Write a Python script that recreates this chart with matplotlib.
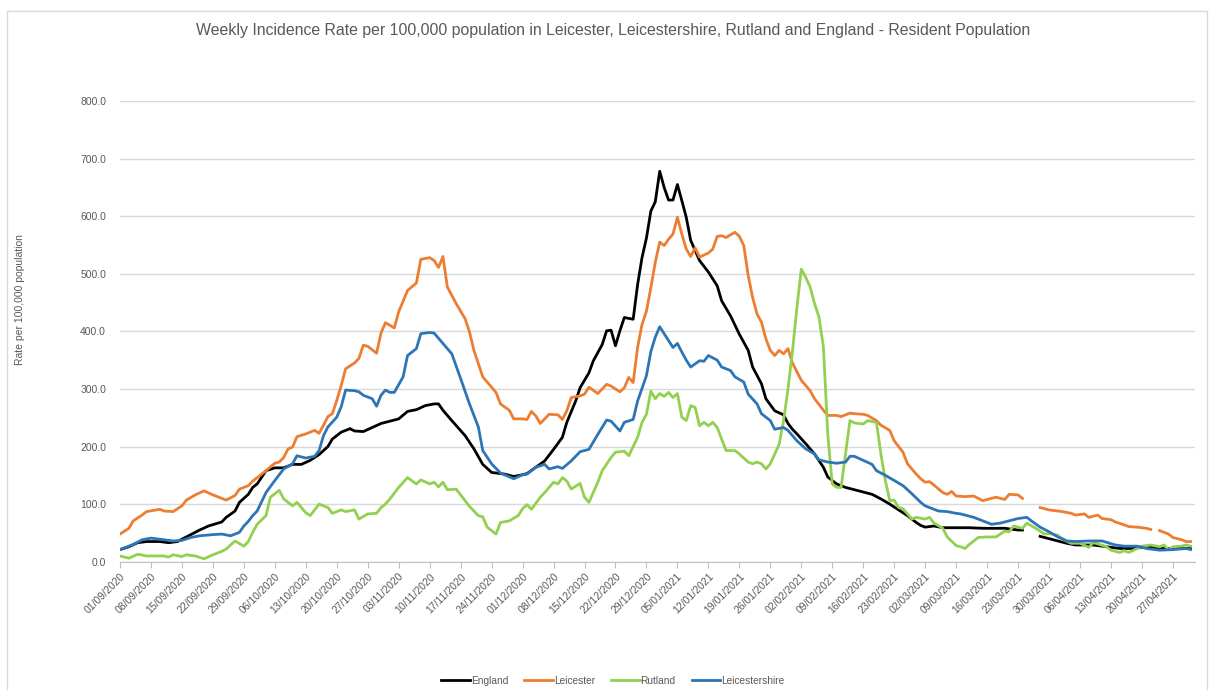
import numpy as np
import pandas as pd
import matplotlib
matplotlib.use('Agg')
import matplotlib.pyplot as plt
from matplotlib.patches import Rectangle
from matplotlib.ticker import FixedLocator, FuncFormatter

plt.rcParams['font.family'] = ['Liberation Sans', 'DejaVu Sans']

# day offsets from 01/09/2020 (NaN = gap in the source line)
start = pd.Timestamp('2020-09-01')

england_days = [0, 2, 4, 6, 9, 11, 13, 14, 16, 18, 20, 23, 24, 26, 27, 29, 30,
                31, 33, 35, 37, 39, 41, 43, 45, 47, 48, 50, 52, 53, 55, 57, 59, 60,
                63, 65, 67, 69, 71, 72, 73, 75, 78, 80, 82, 84, 87, 89, 91,
                92, 94, 96, 98, 100, 101, 103, 104, 106, 107, 109, 110, 111, 112, 113, 114, 116,
                117, 118, 119, 120, 121, 122, 123, 124, 125, 126, 127, 128, 129, 131, 133, 135,
                136, 138, 140, 142, 143, 145, 146, 148, 150, 151, 152,
                153, 155, 157, 159, 160, 162, 164, 166, 168, 170, 172, 174, 176, 178, 180, 181, 182,
                184, 186, 189, 192, 195, 198, 200, 203, 204, 206, 208, 210, 212, 214, 216, 220,
                222, 226, 229, 232, 235, 238, 241, 242]
england = [21, 26, 33, 35, 35, 33, 35, 39, 47, 55, 62, 69, 77, 88, 103, 117, 129,
           135, 158, 163, 163, 169, 169, 176, 186, 200, 213, 225, 231, 227, 226, 233, 240, 242,
           248, 261, 264, 271, 274, 274, 263, 245, 219, 196, 169, 155, 152, 148, 151,
           153, 164, 175, 195, 216, 242, 279, 302, 328, 349, 377, 401, 402, 375, 401, 424, 421,
           481, 528, 562, 609, 625, 678, 650, 628, 628, 655, 627, 598, 558, 523, 503, 479,
           453, 427, 395, 367, 338, 309, 283, 262, 255, 240, 230,
           222, 205, 187, 164, 147, 135, 129, 125, 121, 117, 109, 100, 90, 80, 68, 63, 60,
           62, 59, 59, 59, 58, 58, 58, 55, 55, np.nan, 44, 40, 36, 32, 29, 29,
           27, 23, 23, 26, 23, 23, 23, 23]

leicester_days = [0, 2, 3, 5, 6, 9, 10, 12, 14, 15, 17, 19, 21, 23, 24, 26, 27, 29, 30,
                  31, 33, 35, 36, 37, 38, 39, 40, 42, 44, 45, 46, 47, 48, 49, 50, 51, 53, 54, 55,
                  56, 58, 59, 60,
                  62, 63, 65, 67, 68, 70, 71, 72, 73, 74, 76, 78, 79, 80, 82, 83, 85, 86, 88, 89, 91,
                  92, 93, 94, 95, 97, 99, 100, 101, 102, 104, 105, 106, 108, 110, 111, 113, 114,
                  115, 116, 117, 118, 119, 120, 121, 122, 123, 124, 125, 126, 127, 128, 129, 130,
                  131, 133, 134, 135, 136, 137, 139, 140, 141, 142, 143, 144, 145, 146, 147, 148,
                  149, 150, 151, 152, 154, 156, 157, 159, 160, 162, 163, 165, 166, 168, 169, 171,
                  172, 174, 175, 177, 178, 180, 181, 182,
                  183, 184, 186, 187, 188, 189, 191, 193, 194, 195, 197, 198, 200, 201, 203, 204,
                  206, 208, 210, 212, 213, 215, 216, 218, 219, 220, 221, 222, 224, 225, 227, 228,
                  230, 232, 233, 234, 235, 237, 238, 240, 241, 242]
leicester = [48, 58, 71, 81, 87, 91, 88, 87, 97, 107, 116, 123, 116, 110, 107, 115, 126, 132, 140,
             146, 158, 171, 173, 181, 196, 199, 217, 222, 228, 223, 237, 252, 257, 280, 306, 335,
             345, 353, 376, 374, 362, 397, 415,
             406, 434, 471, 484, 525, 528, 523, 511, 530, 477, 448, 422, 399, 367, 321, 312, 294,
             274, 263, 248, 248,
             247, 261, 253, 240, 256, 255, 247, 262, 285, 288, 291, 303, 292, 308, 305, 295, 302,
             320, 311, 372, 412, 435, 476, 520, 555, 549, 560, 569, 598, 569, 543, 530, 545,
             529, 536, 543, 565, 566, 563, 572, 565, 549, 497, 459, 430, 416, 387, 367, 358,
             367, 361, 370, 345, 315, 297, 283, 263, 254, 254, 252, 258, 257, 256, 254, 245,
             237, 228, 210, 190, 170, 152, 144, 138,
             139, 133, 120, 117, 122, 114, 113, 114, 110, 106, 110, 112, 108, 117, 116, 110,
             np.nan, 94, 90, 88, 87, 84, 81, 83, 77, 79, 81, 75, 73, 69, 64, 61,
             60, 58, 56, np.nan, 54, 48, 42, 38, 35, 35]

rutland_days = [0, 2, 4, 6, 8, 10, 11, 12, 14, 15, 17, 19, 21, 23, 24, 26, 28, 29, 30, 31,
                33, 34, 36, 37, 39, 40, 42, 43, 45, 47, 48, 50, 51, 53, 54, 56, 58, 59, 60,
                61, 63, 65, 67, 68, 70, 71, 72, 73, 74, 76, 78, 79, 81, 82, 83, 85, 86, 88, 90, 91,
                92, 93, 95, 96, 98, 99, 100, 101, 102, 104, 105, 106, 108, 109, 111, 112, 114, 115,
                117, 118, 119, 120, 121, 122, 123, 124, 125, 126, 127, 128, 129, 130, 131, 132,
                133, 134, 135, 137, 139, 140, 142, 143, 144, 145, 146, 147, 149, 150, 151, 152,
                153, 154, 155, 156, 157, 158, 159, 160, 161, 162, 163, 164, 165, 166, 168, 169,
                171, 172, 173, 174, 175, 176, 177, 179, 180, 182,
                183, 184, 186, 187, 189, 190, 191, 192, 194, 196, 198, 200, 201, 202, 204, 205,
                207, 209, 210, 212, 213, 215, 217, 219, 220, 221, 223, 224, 226, 227, 228, 230,
                231, 233, 235, 236, 237, 238, 240, 241, 242]
rutland = [10, 6, 13, 10, 10, 10, 8, 12, 9, 12, 10, 5, 12, 18, 22, 36, 27, 35, 51, 65,
           80, 112, 124, 109, 97, 103, 85, 80, 100, 94, 84, 90, 87, 90, 74, 83, 84, 94, 100,
           109, 129, 146, 135, 142, 135, 138, 130, 138, 125, 126, 106, 96, 80, 78, 60, 48, 68,
           71, 80, 92,
           99, 91, 112, 120, 138, 135, 146, 140, 126, 136, 112, 103, 138, 158, 181, 190, 192, 184,
           216, 242, 256, 296, 283, 292, 287, 294, 285, 292, 251, 245, 271, 268, 236, 242,
           236, 242, 233, 193, 193, 187, 173, 170, 173, 170, 161, 170, 204, 245, 300, 365,
           440, 508, 494, 477, 448, 425, 373, 220, 135, 129, 129, 187, 245, 241, 239, 245,
           242, 187, 141, 106, 107, 94, 92, 74, 77, 74,
           77, 67, 58, 43, 28, 26, 23, 30, 42, 43, 43, 53, 52, 62, 58, 67,
           58, 48, 49, 46, 39, 32, 32, 25, 33, 31, 26, 20, 16, 19, 16, 23,
           27, 29, 26, 29, 21, 26, 27, 29, 27]

leicestershire_days = [0, 3, 5, 7, 9, 12, 14, 16, 18, 21, 23, 25, 27, 28, 29, 30, 31,
                       33, 35, 37, 39, 40, 42, 44, 45, 46, 47, 49, 50, 51, 53, 54, 55, 57, 58, 59, 60,
                       61, 62, 64, 65, 67, 68, 70, 71, 73, 75, 77, 79, 81, 82, 84, 86, 89, 91,
                       92, 94, 96, 97, 99, 100, 102, 104, 106, 108, 110, 111, 113, 114, 116, 117,
                       119, 120, 121, 122, 124, 125, 126, 127, 128, 129, 131, 132, 133, 135, 136,
                       138, 139, 141, 142, 144, 145, 147, 148, 150, 151,
                       153, 155, 157, 158, 160, 162, 164, 165, 166, 168, 170, 171, 173, 175, 177,
                       179, 181, 182,
                       183, 185, 187, 189, 190, 193, 195, 197, 199, 201, 203, 205, 206, 208, 210,
                       212, 213, 214, 216, 219, 222, 225, 227, 230, 232, 235, 238, 241, 242]
leicestershire = [21, 30, 38, 41, 39, 36, 37, 42, 45, 47, 48, 45, 51, 62, 70, 80, 88,
                  120, 141, 161, 170, 184, 180, 183, 193, 219, 234, 251, 269, 298, 297, 295, 289,
                  283, 270, 289, 298,
                  294, 294, 321, 358, 370, 396, 398, 397, 379, 361, 318, 274, 234, 193, 170, 154,
                  144, 151,
                  152, 164, 169, 161, 165, 162, 175, 191, 195, 221, 246, 244, 227, 242, 247, 279,
                  323, 365, 390, 408, 384, 372, 379, 364, 350, 338, 349, 348, 358, 350, 338,
                  332, 321, 312, 291, 274, 257, 245, 230, 233, 228,
                  210, 196, 187, 177, 173, 171, 173, 183, 183, 176, 169, 158, 150, 141, 132,
                  118, 103, 97,
                  94, 88, 87, 84, 83, 77, 71, 65, 67, 71, 75, 77, 71, 60, 52,
                  43, 40, 36, 35, 36, 36, 29, 27, 27, 23, 20, 21, 23, 21]

series = [
    ('England', england_days, england, '#000000'),
    ('Leicester', leicester_days, leicester, '#ED7D31'),
    ('Rutland', rutland_days, rutland, '#92D050'),
    ('Leicestershire', leicestershire_days, leicestershire, '#2E75B6'),
]

W, H = 1211, 690
fig = plt.figure(figsize=(W / 100, H / 100), dpi=100)
ax = fig.add_axes([120 / W, 1 - 561.7 / H, (1195 - 120) / W, (561.7 - 101) / H])

for name, days, vals, col in series:
    x = start + pd.to_timedelta(days, unit='D')
    ax.plot(x, vals, color=col, lw=2.0, label=name, solid_joinstyle='round')

ax.set_ylim(0, 800)
ax.set_xlim(start, start + pd.Timedelta(days=243))
ax.set_yticks(range(0, 801, 100))
ax.yaxis.set_major_formatter(FuncFormatter(lambda v, p: f'{v:.1f}'))

tick_dates = pd.date_range(start, periods=35, freq='7D')
ax.xaxis.set_major_locator(FixedLocator(matplotlib.dates.date2num(tick_dates)))
ax.xaxis.set_major_formatter(matplotlib.dates.DateFormatter('%d/%m/%Y'))
for lab in ax.get_xticklabels():
    lab.set_rotation(45)
    lab.set_ha('right')
    lab.set_rotation_mode('anchor')

ax.tick_params(axis='x', direction='out', length=4, color='#BFBFBF', labelsize=7.5,
               labelcolor='#595959', pad=3)
ax.tick_params(axis='y', length=0, labelsize=7.5, labelcolor='#595959', pad=10)
for s in ['top', 'right', 'left']:
    ax.spines[s].set_visible(False)
ax.spines['bottom'].set_color('#BFBFBF')
ax.yaxis.grid(True, color='#D9D9D9', lw=1)
ax.set_axisbelow(True)

fig.text(0.506, 1 - 30 / H,
         'Weekly Incidence Rate per 100,000 population in Leicester, Leicestershire, Rutland and England - Resident Population',
         ha='center', va='center', fontsize=11.4, color='#595959')
fig.text(20 / W, 1 - 300 / H, 'Rate per 100,000 population', rotation=90,
         ha='center', va='center', fontsize=7.5, color='#595959')

leg = fig.legend(loc='center', bbox_to_anchor=(613 / W, 1 - 681 / H), ncol=4, frameon=False,
                 fontsize=7.3, handlelength=2.8, columnspacing=1.6, handletextpad=0.1,
                 borderaxespad=0, borderpad=0)
for t in leg.get_texts():
    t.set_color('#595959')

fig.patches.append(Rectangle((7 / W, -0.1), (1207 - 7) / W, 1.1 - 11 / H,
                             transform=fig.transFigure, fill=False, ec='#D9D9D9', lw=1))

fig.savefig('out.png', dpi=100)
